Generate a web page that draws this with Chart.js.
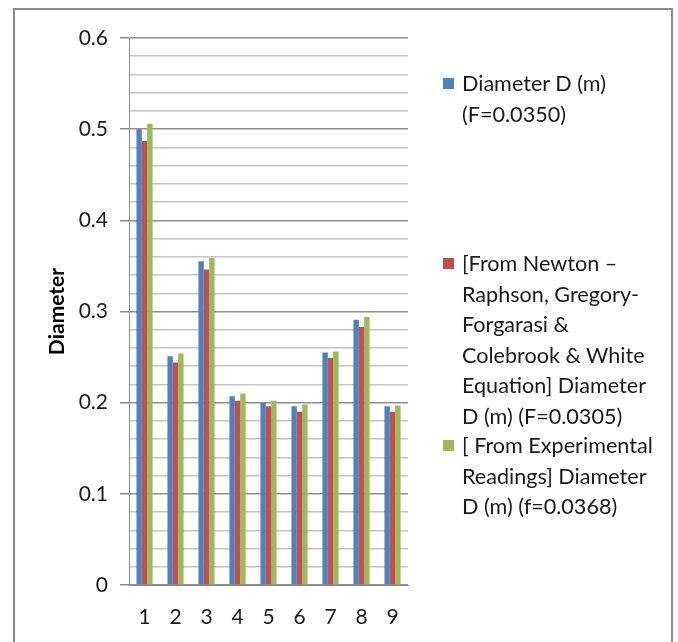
<!DOCTYPE html>
<html lang="en">
<head>
  <meta charset="UTF-8">
  <title>Diameter</title>
  <script src="https://cdn.jsdelivr.net/npm/chart.js"></script>
  <style>
    body {
      margin: 0;
      background: #fff;
      font-family: 'Lato', sans-serif;
    }
    #wrap {
      position: relative;
      width: 678px;
      height: 642px;
      overflow: hidden;
    }
    #frame {
      position: absolute;
      left: 13px;
      top: 8px;
      width: 660px;
      height: 660px;
      border: 2px solid #8a8a8a;
      box-sizing: border-box;
      pointer-events: none;
    }
    canvas { position: absolute; left: 0; top: 0; }
    .leg {
      position: absolute;
      left: 462px;
      font-size: 21.6px;
      line-height: 30.5px;
      color: #1a1a1a;
      white-space: nowrap;
    }
    .sw {
      position: absolute;
      left: 443px;
      width: 11px;
      height: 11px;
    }
  </style>
</head>
<body>
<div id="wrap">
  <canvas id="chart" width="678" height="642"></canvas>
  <div id="frame"></div>
  <div id="legend"></div>
</div>

<script>
const categories = ['1', '2', '3', '4', '5', '6', '7', '8', '9'];
const seriesNames = [
  ['Diameter D (m)', '(F=0.0350)'],
  ['[From Newton \u2013', 'Raphson, Gregory-', 'Forgarasi  &', 'Colebrook & White', 'Equation] Diameter', 'D (m) (F=0.0305)'],
  ['[ From Experimental', 'Readings] Diameter', 'D (m) (f=0.0368)']
];
const diameterF0350 = [0.500, 0.251, 0.355, 0.207, 0.200, 0.196, 0.255, 0.291, 0.196];
const diameterNewton = [0.487, 0.244, 0.346, 0.202, 0.196, 0.190, 0.249, 0.283, 0.190];
const diameterExperimental = [0.506, 0.254, 0.359, 0.210, 0.202, 0.198, 0.256, 0.294, 0.197];
const colors = ['#4F81BD', '#C0504D', '#9BBB59'];

// legend is html so the long names can wrap like the original
const legendTops = [68, 248, 430];
const legendBox = document.getElementById('legend');
seriesNames.forEach((lines, i) => {
  const sw = document.createElement('div');
  sw.className = 'sw';
  sw.style.top = (legendTops[i] + 10) + 'px';
  sw.style.background = colors[i];
  legendBox.appendChild(sw);
  const t = document.createElement('div');
  t.className = 'leg';
  t.style.top = legendTops[i] + 'px';
  t.innerHTML = lines.join('<br>');
  legendBox.appendChild(t);
});

const isMajor = v => Math.abs(v * 10 - Math.round(v * 10)) < 1e-6;

const ctx = document.getElementById('chart').getContext('2d');
new Chart(ctx, {
  type: 'bar',
  data: {
    labels: categories,
    datasets: [
      { label: seriesNames[0].join(' '), data: diameterF0350, backgroundColor: colors[0] },
      { label: seriesNames[1].join(' '), data: diameterNewton, backgroundColor: colors[1] },
      { label: seriesNames[2].join(' '), data: diameterExperimental, backgroundColor: colors[2] }
    ]
  },
  options: {
    responsive: false,
    animation: false,
    layout: { padding: { left: 40, right: 270, top: 38, bottom: 0 } },
    datasets: { bar: { categoryPercentage: 0.52, barPercentage: 1 } },
    plugins: { legend: { display: false }, tooltip: { enabled: false } },
    scales: {
      x: {
        afterFit: s => { s.height = 57; },
        grid: { display: false, drawTicks: false },
        border: { color: '#8a8a8a', width: 1 },
        ticks: { color: '#1a1a1a', padding: 20, font: { family: 'Lato', size: 21 } }
      },
      y: {
        min: 0,
        max: 0.6,
        afterFit: s => { s.width = 89; },
        border: { color: '#8a8a8a', width: 1 },
        grid: {
          color: c => isMajor(c.tick.value) ? '#8f8f8f' : '#c4c4c4',
          lineWidth: 1.5,
          tickLength: 9,
          tickColor: c => isMajor(c.tick.value) ? '#8a8a8a' : 'rgba(0,0,0,0)'
        },
        ticks: {
          stepSize: 0.02,
          autoSkip: false,
          padding: 12,
          color: '#1a1a1a',
          font: { family: 'Lato', size: 21 },
          callback: v => isMajor(v) ? (Math.round(v * 10) / 10).toString() : ''
        },
        title: {
          display: true,
          text: 'Diameter',
          color: '#000',
          padding: { top: 5, bottom: 0 },
          font: { family: 'Lato', size: 21, weight: 'bold' }
        }
      }
    }
  }
});
</script>
</body>
</html>
